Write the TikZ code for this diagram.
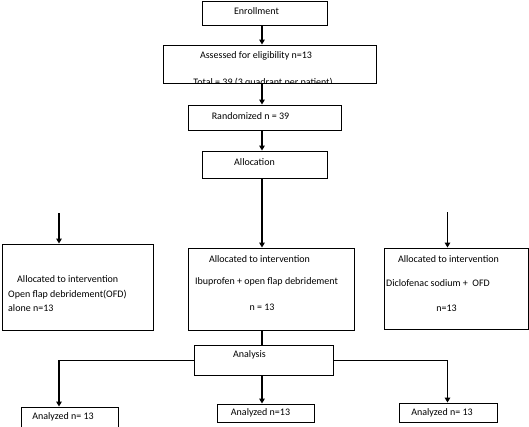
\documentclass[tikz,border=0pt]{standalone}
\usepackage{fontspec}
\setmainfont{Carlito}
\usetikzlibrary{arrows.meta}

\begin{document}
\begin{tikzpicture}[x=1pt, y=-1pt,
  box/.style={draw, line width=0.9pt, rectangle, inner sep=0pt},
  txt/.style={inner sep=0pt, font=\fontsize{10}{12}\selectfont},
  arr/.style={-{Triangle[length=5pt,width=5.5pt]}, line width=1.8pt},
  link/.style={line width=1pt}]
\clip (0,0) rectangle (529,426);
\coordinate (spine) at (262,0);
\coordinate (lcol) at (59,0);
\coordinate (rcol) at (447.5,0);

% boxes
\node[box, minimum width=125pt, minimum height=24pt] (Enroll) at (264.5,13) {};
\node[box, minimum width=213pt, minimum height=38pt] (Assess) at (269.5,64) {};
\node[box, minimum width=153pt, minimum height=25pt] (Random) at (264.5,117.5) {};
\node[box, minimum width=125pt, minimum height=27pt] (Alloc) at (264.5,164.5) {};
\node[box, minimum width=151pt, minimum height=86pt] (OFD) at (77.5,287) {};
\node[box, minimum width=166pt, minimum height=82pt] (Ibu) at (271,289) {};
\node[box, minimum width=144pt, minimum height=81pt] (Diclo) at (456,288.5) {};
\node[box, minimum width=139pt, minimum height=30pt] (Analysis) at (263.5,360) {};
\node[box, minimum width=97pt, minimum height=25pt] (AnaOFD) at (69.5,419.5) {};
\node[box, minimum width=97pt, minimum height=18pt] (AnaIbu) at (265.5,413) {};
\node[box, minimum width=98pt, minimum height=19pt] (AnaDiclo) at (448,412.5) {};

% texts
\node[txt] (tEnroll) at (256.5,11) {Enrollment};
\node[txt] (tAssess) at (256,56) {Assessed for eligibility n=13};
\begin{scope}
\clip (Assess.north west) rectangle (Assess.south east);
\node[txt] (tTotal) at (263,83) {Total = 39 (3 quadrant per patient)};
\end{scope}
\node[txt] (tRandom) at (250.5,116) {Randomized n = 39};
\node[txt] (tAlloc) at (254.5,162) {Allocation};
\node[txt, anchor=west] (tOFDa) at (17,279) {Allocated to intervention};
\node[txt, anchor=west] (tOFDb) at (8,295) {Open flap debridement(OFD)};
\node[txt, anchor=west] (tOFDc) at (8,308) {alone n=13};
\node[txt] (tIbua) at (259.5,259) {Allocated to intervention};
\node[txt] (tIbub) at (266.5,282) {Ibuprofen + open flap debridement};
\node[txt] (tIbuc) at (262,307) {n = 13};
\node[txt] (tDicloa) at (448.5,259) {Allocated to intervention};
\node[txt, anchor=west] (tDiclob) at (386,283) {Diclofenac sodium +\ \ OFD};
\node[txt] (tDicloc) at (446.5,308) {n=13};
\node[txt] (tAnalysis) at (249.5,355) {Analysis};
\node[txt] (tAnaOFD) at (63,417) {Analyzed n= 13};
\node[txt] (tAnaIbu) at (260.5,413) {Analyzed n=13};
\node[txt] (tAnaDiclo) at (442,413) {Analyzed n= 13};

% connectors
\draw[arr] (Enroll.south -| spine) -- (Assess.north -| spine);
\draw[arr] (Assess.south -| spine) -- (Random.north -| spine);
\draw[arr] (Random.south -| spine) -- (Alloc.north -| spine);
\draw[arr] (Alloc.south -| spine) -- (Ibu.north -| spine);
\coordinate (ltop) at (59,213);
\coordinate (rtop) at (447.5,212);
\draw[arr] (ltop) -- (OFD.north -| ltop);
\draw[arr] (rtop) -- (Diclo.north -| rtop);
\draw[line width=1.8pt] (Ibu.south -| spine) -- (Analysis.north -| spine);
\draw[arr] (Analysis.south -| spine) -- (AnaIbu.north -| spine);
\coordinate (lcorner) at (lcol |- Analysis.west);
\coordinate (rcorner) at (rcol |- Analysis.east);
\draw[link] (Analysis.west) -- (lcorner);
\draw[link] (Analysis.east) -- (rcorner);
\draw[arr] (lcorner) -- (AnaOFD.north -| lcorner);
\draw[arr] (rcorner) -- (AnaDiclo.north -| rcorner);
\end{tikzpicture}
\end{document}
